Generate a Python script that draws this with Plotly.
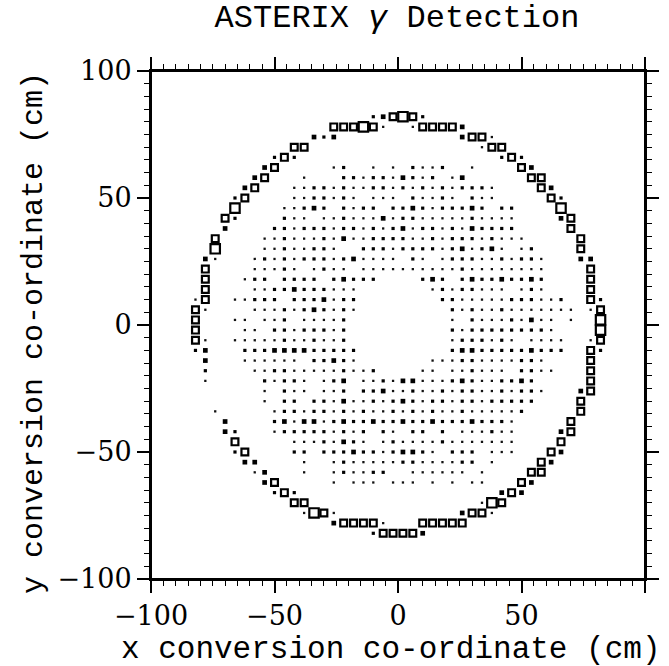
import plotly.graph_objects as go

# ---------------- data ----------------
# 4 cm bins, bin centres run from -98 to 98 cm.
BIN_WIDTH = 4.0
FIRST_CENTRE_X = -98.0
TOP_CENTRE_Y = 98.0

# occupancy classes: '.' 1, ':' 2, 'o' 4, 'b' 9, 'B' 16 conversions per bin
CLASS_COUNTS = {".": 1, ":": 2, "o": 4, "b": 9, "B": 16}

# (row from top, first column, pattern) -- space = empty bin
ring_segments = [
    (4, 22, ":obBb:"),
    (5, 18, "bbbBb.  .bbbbo"),
    (6, 16, "o:o"), (6, 31, "obb."),
    (7, 14, "bb"), (7, 33, ".bb"),
    (8, 12, ":b:"), (8, 35, ":b:"),
    (9, 11, "ob"), (9, 37, "bo"),
    (10, 10, "ob"), (10, 38, "bb"),
    (11, 9, "ob"), (11, 39, "bo"),
    (12, 8, ":b"), (12, 40, "b:"),
    (13, 8, "B"), (13, 41, "B"),
    (14, 7, "b:"), (14, 41, "ob"),
    (15, 7, "o"), (15, 42, "b"),
    (16, 6, "b"), (16, 43, "b"),
    (17, 6, "B"), (17, 43, "b"),
    (18, 5, "o."), (18, 43, "oo"),
    (19, 5, "b"), (19, 44, "b"),
    (20, 5, "b"), (20, 44, "b"),
    (21, 5, "b"), (21, 44, "b"),
    (22, 4, ".b"), (22, 44, "b:"),
    (23, 4, "b."), (23, 44, ".b"),
    (24, 4, "b"), (24, 45, "B"),
    (25, 4, "b"), (25, 45, "B"),
    (26, 4, "b."), (26, 44, ".b"),
    (27, 4, ":o"), (27, 44, "b:"),
    (28, 5, "o"), (28, 44, "b"),
    (29, 5, ":"), (29, 44, "b"),
    (30, 5, "."), (30, 44, "b"),
    (31, 43, "ob"),
    (32, 43, "b"),
    (33, 6, "."), (33, 43, "b"),
    (34, 7, "o"), (34, 42, "b"),
    (35, 7, "o:"), (35, 41, "ob"),
    (36, 8, "b"), (36, 41, "b"),
    (37, 8, ":b"), (37, 40, "bo"),
    (38, 9, "oo"), (38, 39, "bo"),
    (39, 10, ".o"), (39, 38, "bb"),
    (40, 11, "ob"), (40, 37, "bo"),
    (41, 12, ":b:"), (41, 35, "obo"),
    (42, 14, "bb"), (42, 33, ".Bb"),
    (43, 15, ".Bb."), (43, 31, "obb."),
    (44, 18, "obbbb."), (44, 27, "bbbbb"),
    (45, 22, ":bbbbo"),
]

core_segments = [
    (9, 18, ".:  . . :..:  ."),
    (10, 15, ".   ::.::.o:.: .o"),
    (11, 14, "..::.:..::.:.:.:.:::."),
    (12, 14, "..::.:. ... :..:. :.."),
    (13, 13, "..:o: :.:: ::o:.:::o: ::"),
    (14, 13, ":.. ..:...o.::.....:...."),
    (15, 12, "::.:::.::.:.:o.::.:.o::::"),
    (16, 11, "..:...:.o..::::..:.:::.:..."),
    (17, 11, "..:..::.  :::.::::.:o.:o. .:"),
    (18, 10, ".:.:.:::.:o.... :. .:::..:.::."),
    (19, 10, "...:. .:.. ..........:........"),
    (20, 9, ".:: :::: :o:::    :o: :o::o::o:"),
    (21, 10, "..::o:::..."), (21, 28, ".:.::... .:."),
    (22, 8, "..::: :::o.::"), (22, 29, "::.....:::..:"),
    (23, 10, "...:.:o:.:."), (23, 30, ":.:..:......."),
    (24, 8, ".. ..: ....:"), (24, 30, ". :...:.o.. ."),
    (25, 9, ".. ::.:::.:"), (25, 30, ":.::::::::."),
    (26, 8, ".....:..:..:"), (26, 30, ".:::.:. ...."),
    (27, 9, ":::oooo:::::"), (27, 30, ":oo:::::o:::"),
    (28, 9, "...... ::o:."), (28, 28, "...::....::."),
    (29, 10, "..::.....:..:"), (29, 27, ".. ..:... ::.."),
    (30, 11, ":.::. .:o ..:.oo...:o:..::o:"),
    (31, 11, ". :.. ..: ::o..:..:.::..:.::."),
    (32, 11, ". :: ::.o..:.:o:.::.::.:::::"),
    (33, 12, ".::.::.:.:..:.:.:..:.....:"),
    (34, 12, ":o.oo.:o::o::o::o:::o:::."),
    (35, 12, ".:::::.:.: :. :: : ...:.."),
    (36, 14, "...:.o:. .:....:......."),
    (37, 14, ":: :::o::.:oo:. ::: ..."),
    (38, 15, ".  .:.....::....:: ."),
    (39, 15, ".  .:..::  ...... ."),
    (40, 18, ". ... ... . . .."),
]

title_text = "ASTERIX <i>γ</i> Detection"
x_title = "x conversion co-ordinate (cm)"
y_title = "y conversion co-ordinate (cm)"
tick_values = [-100, -50, 0, 50, 100]
tick_labels = ["\u2212100", "\u221250", "0", "50", "100"]

# ---------------- build marks ----------------
points = {k: ([], []) for k in CLASS_COUNTS}
for row, col0, pattern in ring_segments + core_segments:
    for k, ch in enumerate(pattern):
        if ch == " ":
            continue
        points[ch][0].append(FIRST_CENTRE_X + BIN_WIDTH * (col0 + k))
        points[ch][1].append(TOP_CENTRE_Y - BIN_WIDTH * row)

style = {
    ".": dict(symbol="square", size=2.3, color="#111111", line=dict(width=0)),
    ":": dict(symbol="square", size=3.2, color="black", line=dict(width=0)),
    "o": dict(symbol="square", size=4.7, color="black", line=dict(width=0)),
    "b": dict(symbol="square-open", size=6.8, color="black", line=dict(width=2.2, color="black")),
    "B": dict(symbol="square-open", size=9.4, color="black", line=dict(width=2.2, color="black")),
}

fig = go.Figure()
for ch in CLASS_COUNTS:
    xs, ys = points[ch]
    fig.add_trace(go.Scatter(
        x=xs, y=ys, mode="markers",
        marker=style[ch],
        hoverinfo="skip", showlegend=False,
    ))

TICK_FONT = "DejaVu Serif"
TEXT_FONT = "Liberation Mono"
L, R, T, B = 151, 24, 71, 87
W, H = 669, 666
pw, ph = W - L - R, H - T - B

axis_common = dict(
    range=[-100, 100], showgrid=False, zeroline=False, automargin=False,
    showline=True, linewidth=2, linecolor="black", mirror="allticks",
    ticks="outside", ticklen=12, tickwidth=1.5, tickcolor="black",
    tickvals=tick_values, ticktext=tick_labels,
    tickfont=dict(family=TICK_FONT, size=27, color="black"),
    minor=dict(dtick=5, tick0=0, ticks="outside", ticklen=5, tickwidth=1.2, tickcolor="black"),
)

fig.update_layout(
    width=W, height=H,
    margin=dict(l=L, r=R, t=T, b=B),
    paper_bgcolor="white", plot_bgcolor="white",
    xaxis=dict(**axis_common),
    yaxis=dict(**axis_common),
    title=dict(text=title_text, x=397 / W, xanchor="center",
               y=1 - 16 / H, yanchor="middle",
               font=dict(family=TEXT_FONT, size=32, color="black")),
    annotations=[
        dict(text=x_title, xref="paper", yref="paper",
             x=(391 - L) / pw, y=(H - B - 649) / ph, xanchor="center", yanchor="middle",
             showarrow=False, font=dict(family=TEXT_FONT, size=31, color="black")),
        dict(text=y_title, xref="paper", yref="paper", textangle=-90,
             x=(34 - L) / pw, y=(H - B - 333) / ph, xanchor="center", yanchor="middle",
             showarrow=False, font=dict(family=TEXT_FONT, size=30, color="black")),
    ],
)

# frame lines running slightly past the corners
ext_x = 14 / pw
ext_y = 10 / ph
for yv in (0, 1):
    fig.add_shape(type="line", xref="paper", yref="paper", x0=-ext_x, x1=1 + ext_x,
                  y0=yv, y1=yv, line=dict(color="black", width=2))
for xv in (0, 1):
    fig.add_shape(type="line", xref="paper", yref="paper", x0=xv, x1=xv,
                  y0=-ext_y, y1=1 + ext_y, line=dict(color="black", width=2))

fig.write_html("out.html")
